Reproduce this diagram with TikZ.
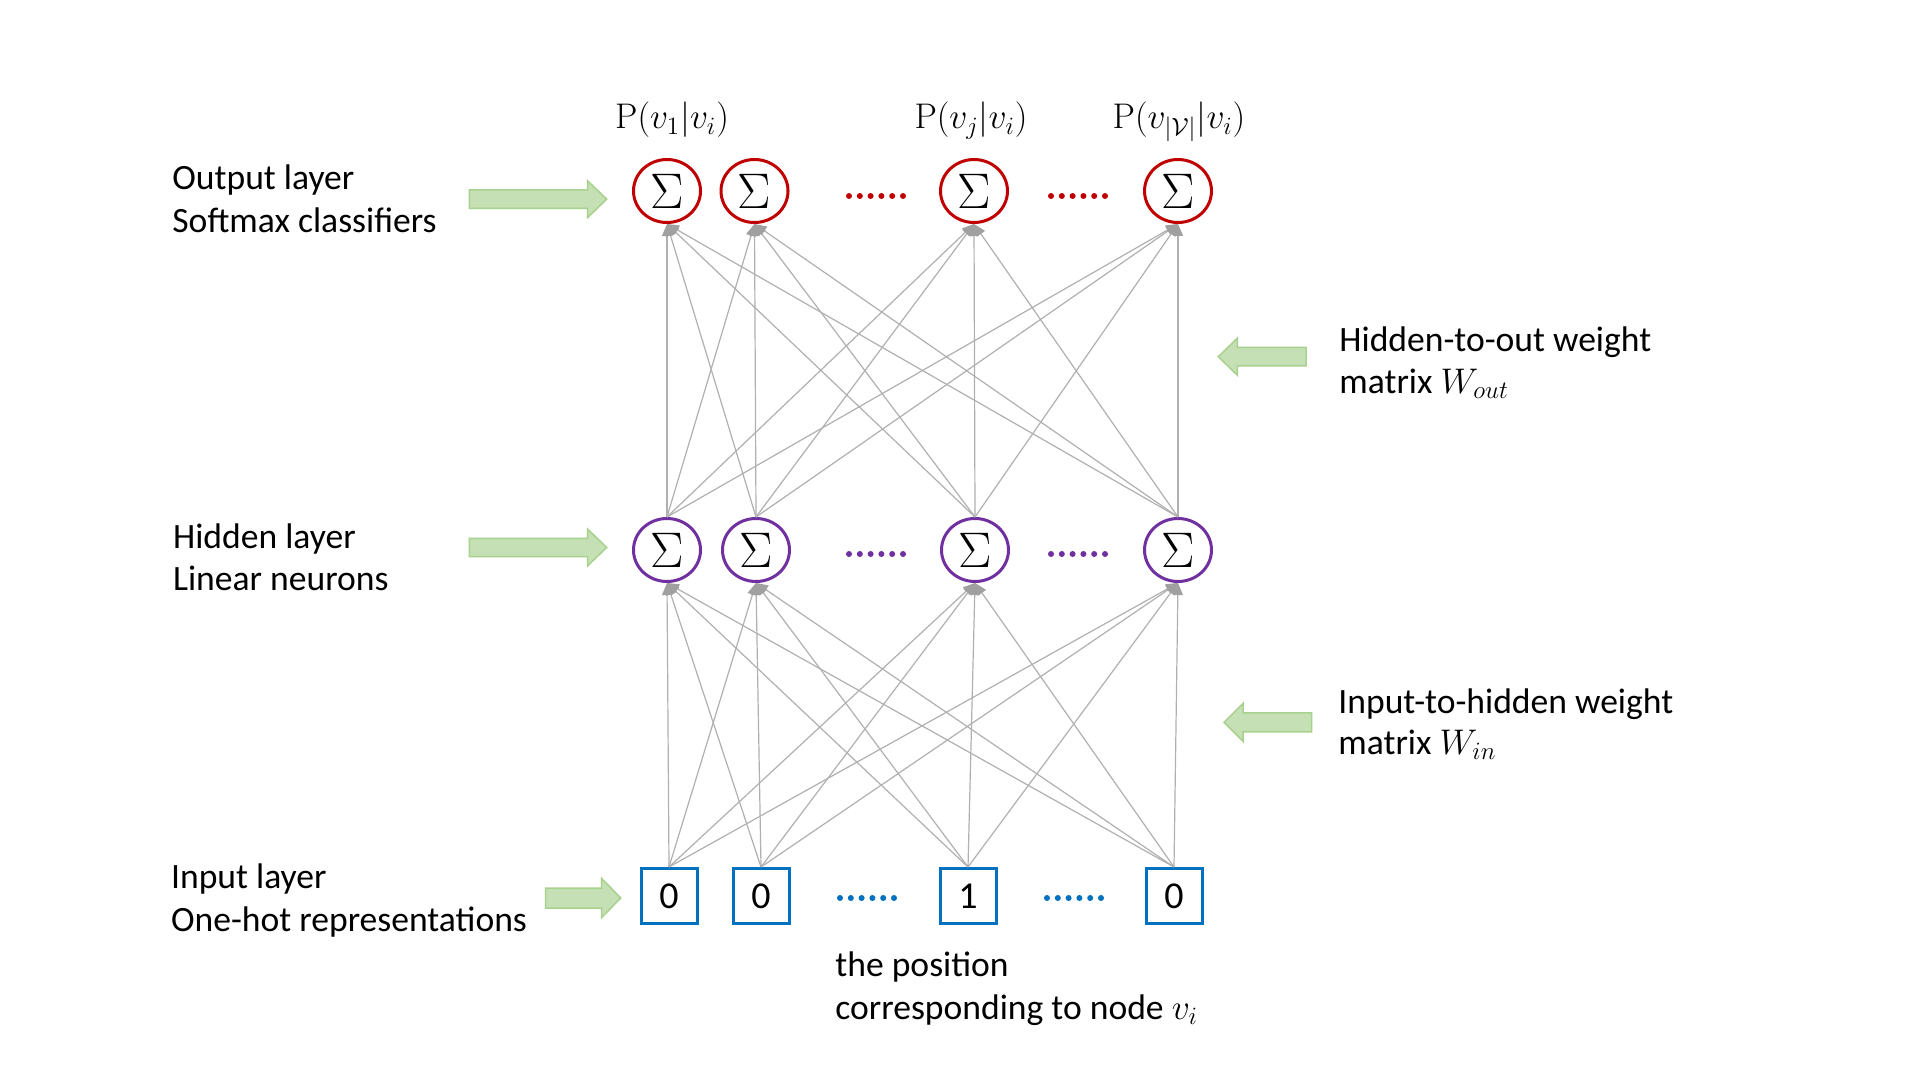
\RequirePackage{fix-cm}
\documentclass[tikz,border=0pt]{standalone}
\usepackage[no-math]{fontspec}
\setmainfont{Carlito}
\usetikzlibrary{arrows.meta,shapes.geometric}
\definecolor{outred}{HTML}{C00000}
\definecolor{hidpurple}{HTML}{7030A0}
\definecolor{inblue}{HTML}{0070C0}
\definecolor{gfill}{HTML}{C5E0B4}
\definecolor{gdraw}{HTML}{A9D18E}
\definecolor{edgegray}{HTML}{B0B0B0}
\definecolor{tipgray}{HTML}{A0A0A0}
\begin{document}
\begin{tikzpicture}[x=0.5pt,y=-0.5pt,
  lab/.style={anchor=base west, inner sep=0pt, font=\fontsize{17.8}{21.6}\selectfont},
  mlab/.style={anchor=base, inner sep=0pt, font=\fontsize{17.8}{21.6}\selectfont},
  neuron/.style={ellipse, minimum width=33.5pt, minimum height=31.5pt, inner sep=0pt, line width=1.5pt, font=\fontsize{25}{30}\selectfont},
  outn/.style={neuron, draw=outred},
  hidn/.style={neuron, draw=hidpurple},
  inbox/.style={rectangle, draw=inblue, line width=1.5pt, minimum width=28pt, minimum height=27.5pt, inner sep=0pt, font=\fontsize{19}{23}\selectfont},
  edge/.style={draw=edgegray, line width=0.6pt, -{Triangle[length=6pt,width=5pt,color=tipgray]}},
  garrowstyle/.style={fill=gfill, draw=gdraw, line width=0.75pt},
  pics/garrow/.style args={#1/#2/#3}{code={
    \filldraw[garrowstyle] (0,-#2) -- (#1-19,-#2) -- (#1-19,-#3) -- (#1,0) -- (#1-19,#3) -- (#1-19,#2) -- (0,#2) -- cycle;}}
]
\useasboundingbox (0,0) rectangle (1920,1080);
\fill[white] (0,0) rectangle (1920,1080);

% output layer
\node[outn] (o1) at (667,191) {$\Sigma$};
\node[outn] (o2) at (754.5,191) {$\Sigma$};
\node[outn] (o3) at (974,191) {$\Sigma$};
\node[outn] (o4) at (1178,191) {$\Sigma$};
% hidden layer
\node[hidn] (h1) at (667,550) {$\Sigma$};
\node[hidn] (h2) at (756,550) {$\Sigma$};
\node[hidn] (h3) at (975,550) {$\Sigma$};
\node[hidn] (h4) at (1178,550) {$\Sigma$};
% input layer
\node[inbox] (i1) at (669,896) {0};
\node[inbox] (i2) at (761,896) {0};
\node[inbox] (i3) at (968,896) {1};
\node[inbox] (i4) at (1174,896) {0};

% dots
\foreach \i in {0,...,5} {
  \fill[outred] (849+\i*10.8,196) circle[radius=1.5pt];
  \fill[outred] (1051+\i*10.8,196) circle[radius=1.5pt];
  \fill[hidpurple] (849+\i*10.8,554) circle[radius=1.5pt];
  \fill[hidpurple] (1051+\i*10.8,554) circle[radius=1.5pt];
  \fill[inblue] (840+\i*10.8,898) circle[radius=1.5pt];
  \fill[inblue] (1047+\i*10.8,898) circle[radius=1.5pt];
}

% connections
\foreach \a in {h1,h2,h3,h4} \foreach \b in {o1,o2,o3,o4} \draw[edge] (\a.north) -- (\b.south);
\foreach \a in {i1,i2,i3,i4} \foreach \b in {h1,h2,h3,h4} \draw[edge] (\a.north) -- (\b.south);

% probability labels
\node[mlab] (p1) at (672,129) {$\mathrm{P}(v_1|v_i)$};
\node[mlab] (pj) at (971,129) {$\mathrm{P}(v_j|v_i)$};
\node[mlab] (pv) at (1179,129) {$\mathrm{P}(v_{|\mathcal{V}|}|v_i)$};

% left labels
\node[lab] (l1a) at (172,190) {Output layer};
\node[lab] (l1b) at (172,232.7) {Softmax classifiers};
\node[lab] (l2a) at (172.7,548.3) {Hidden layer};
\node[lab] (l2b) at (172.7,590) {Linear neurons};
\node[lab] (l3a) at (170.7,888.3) {Input layer};
\node[lab] (l3b) at (170.7,931.7) {One-hot representations};
% right labels
\node[lab] (r1a) at (1339,351.7) {Hidden-to-out weight};
\node[lab] (r1b) at (1339,393.3) {matrix $W_{out}$};
\node[lab] (r2a) at (1338,713.3) {Input-to-hidden weight};
\node[lab] (r2b) at (1338,754) {matrix $W_{in}$};
% bottom note
\node[lab] (n1) at (835,976) {the position};
\node[lab] (n2) at (835,1019) {corresponding to node $v_i$};

% green block arrows
\pic at (469.3,199.2) {garrow=137.4/9.2/18.3};
\pic at (469.3,547.5) {garrow=137.4/9.2/18.3};
\pic at (545.7,898) {garrow=75/10/19.5};
\pic[xscale=-1] at (1306,356.7) {garrow=87.7/9.2/18.5};
\pic[xscale=-1] at (1311.7,722.3) {garrow=87.7/9.5/19};
\end{tikzpicture}
\end{document}
